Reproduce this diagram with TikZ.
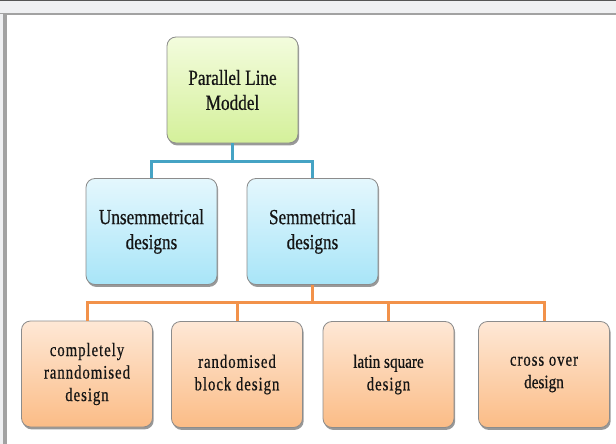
\documentclass[tikz,border=0pt]{standalone}
\usepackage{fontspec}
\setmainfont{Liberation Serif}[FakeStretch=0.8,FakeBold=0.6]
\newfontfamily\spcfont{Liberation Serif}[FakeStretch=0.78,FakeBold=0.6,LetterSpace=5]
\usetikzlibrary{shadows}
\definecolor{gtop}{HTML}{F3FCDD}
\definecolor{gbot}{HTML}{D4F09A}
\definecolor{btop}{HTML}{E4F7FD}
\definecolor{bbot}{HTML}{A8E5F8}
\definecolor{otop}{HTML}{FEE8D6}
\definecolor{obot}{HTML}{FBBC86}
\definecolor{boxedge}{HTML}{8C8C8C}
\definecolor{tealline}{HTML}{45A3C4}
\definecolor{orangeline}{HTML}{F2924A}
\definecolor{bandgray}{HTML}{EFF0F2}
\definecolor{framegray}{HTML}{A2A2A2}
\definecolor{darkline}{HTML}{555555}
\definecolor{txt}{HTML}{151515}
\begin{document}
\begin{tikzpicture}[x=1pt,y=-1pt,
  box/.style={draw=boxedge, line width=0.8pt, rounded corners=9pt,
    minimum width=131pt, minimum height=106pt, align=center, inner sep=2pt,
    text=txt,
    drop shadow={shadow xshift=1.2pt,shadow yshift=-2.4pt,opacity=0.4,fill=black}},
  greenbox/.style={box, top color=gtop, bottom color=gbot, font=\fontsize{21.5}{25}\selectfont},
  bluebox/.style={box, top color=btop, bottom color=bbot, font=\fontsize{21.5}{25}\selectfont},
  orangebox/.style={box, top color=otop, bottom color=obot, font=\fontsize{19}{22.5}\selectfont},
  tealconn/.style={draw=tealline, line width=3pt},
  orangeconn/.style={draw=orangeline, line width=3pt}]
\useasboundingbox (0,0) rectangle (616,444);
% window frame
\fill[white] (0,0) rectangle (616,444);
\fill[bandgray] (0,0) rectangle (616,14);
\fill[darkline] (0,0) rectangle (616,1.5);
\fill[framegray] (0,13) rectangle (616,15.5);
\fill[bandgray] (0,14) rectangle (3,444);
\fill[framegray] (3,14) rectangle (6.5,444);
% nodes
\node[greenbox] (top) at (232.5,90) {Parallel Line\\Moddel};
\node[bluebox] (uns) at (151.5,231.5) {Unsemmetrical\\designs};
\node[bluebox] (sem) at (312.5,231.5) {Semmetrical\\designs};
\node[orangebox] (b1) at (87,374) {\spcfont completely\\ \spcfont ranndomised\\ \spcfont design};
\node[orangebox] (b2) at (237,374.5) {\spcfont randomised\\ \spcfont block design};
\node[orangebox] (b3) at (388.5,374.5) {latin square\\ \spcfont design};
\node[orangebox] (b4) at (544,374.5) {\spcfont cross over\\design};
% connectors
\coordinate (tj) at (232.5,161.5);
\coordinate (oj) at (312.5,302);
\draw[tealconn] (top.south) -- (tj);
\draw[tealconn] (uns.north) |- (tj) -| (sem.north);
\draw[orangeconn] (sem.south) -- (oj);
\draw[orangeconn] (b1.north) |- (oj) -| (b4.north);
\draw[orangeconn] (b2.north) -- (b2.north |- oj);
\draw[orangeconn] (b3.north) -- (b3.north |- oj);
\end{tikzpicture}
\end{document}
